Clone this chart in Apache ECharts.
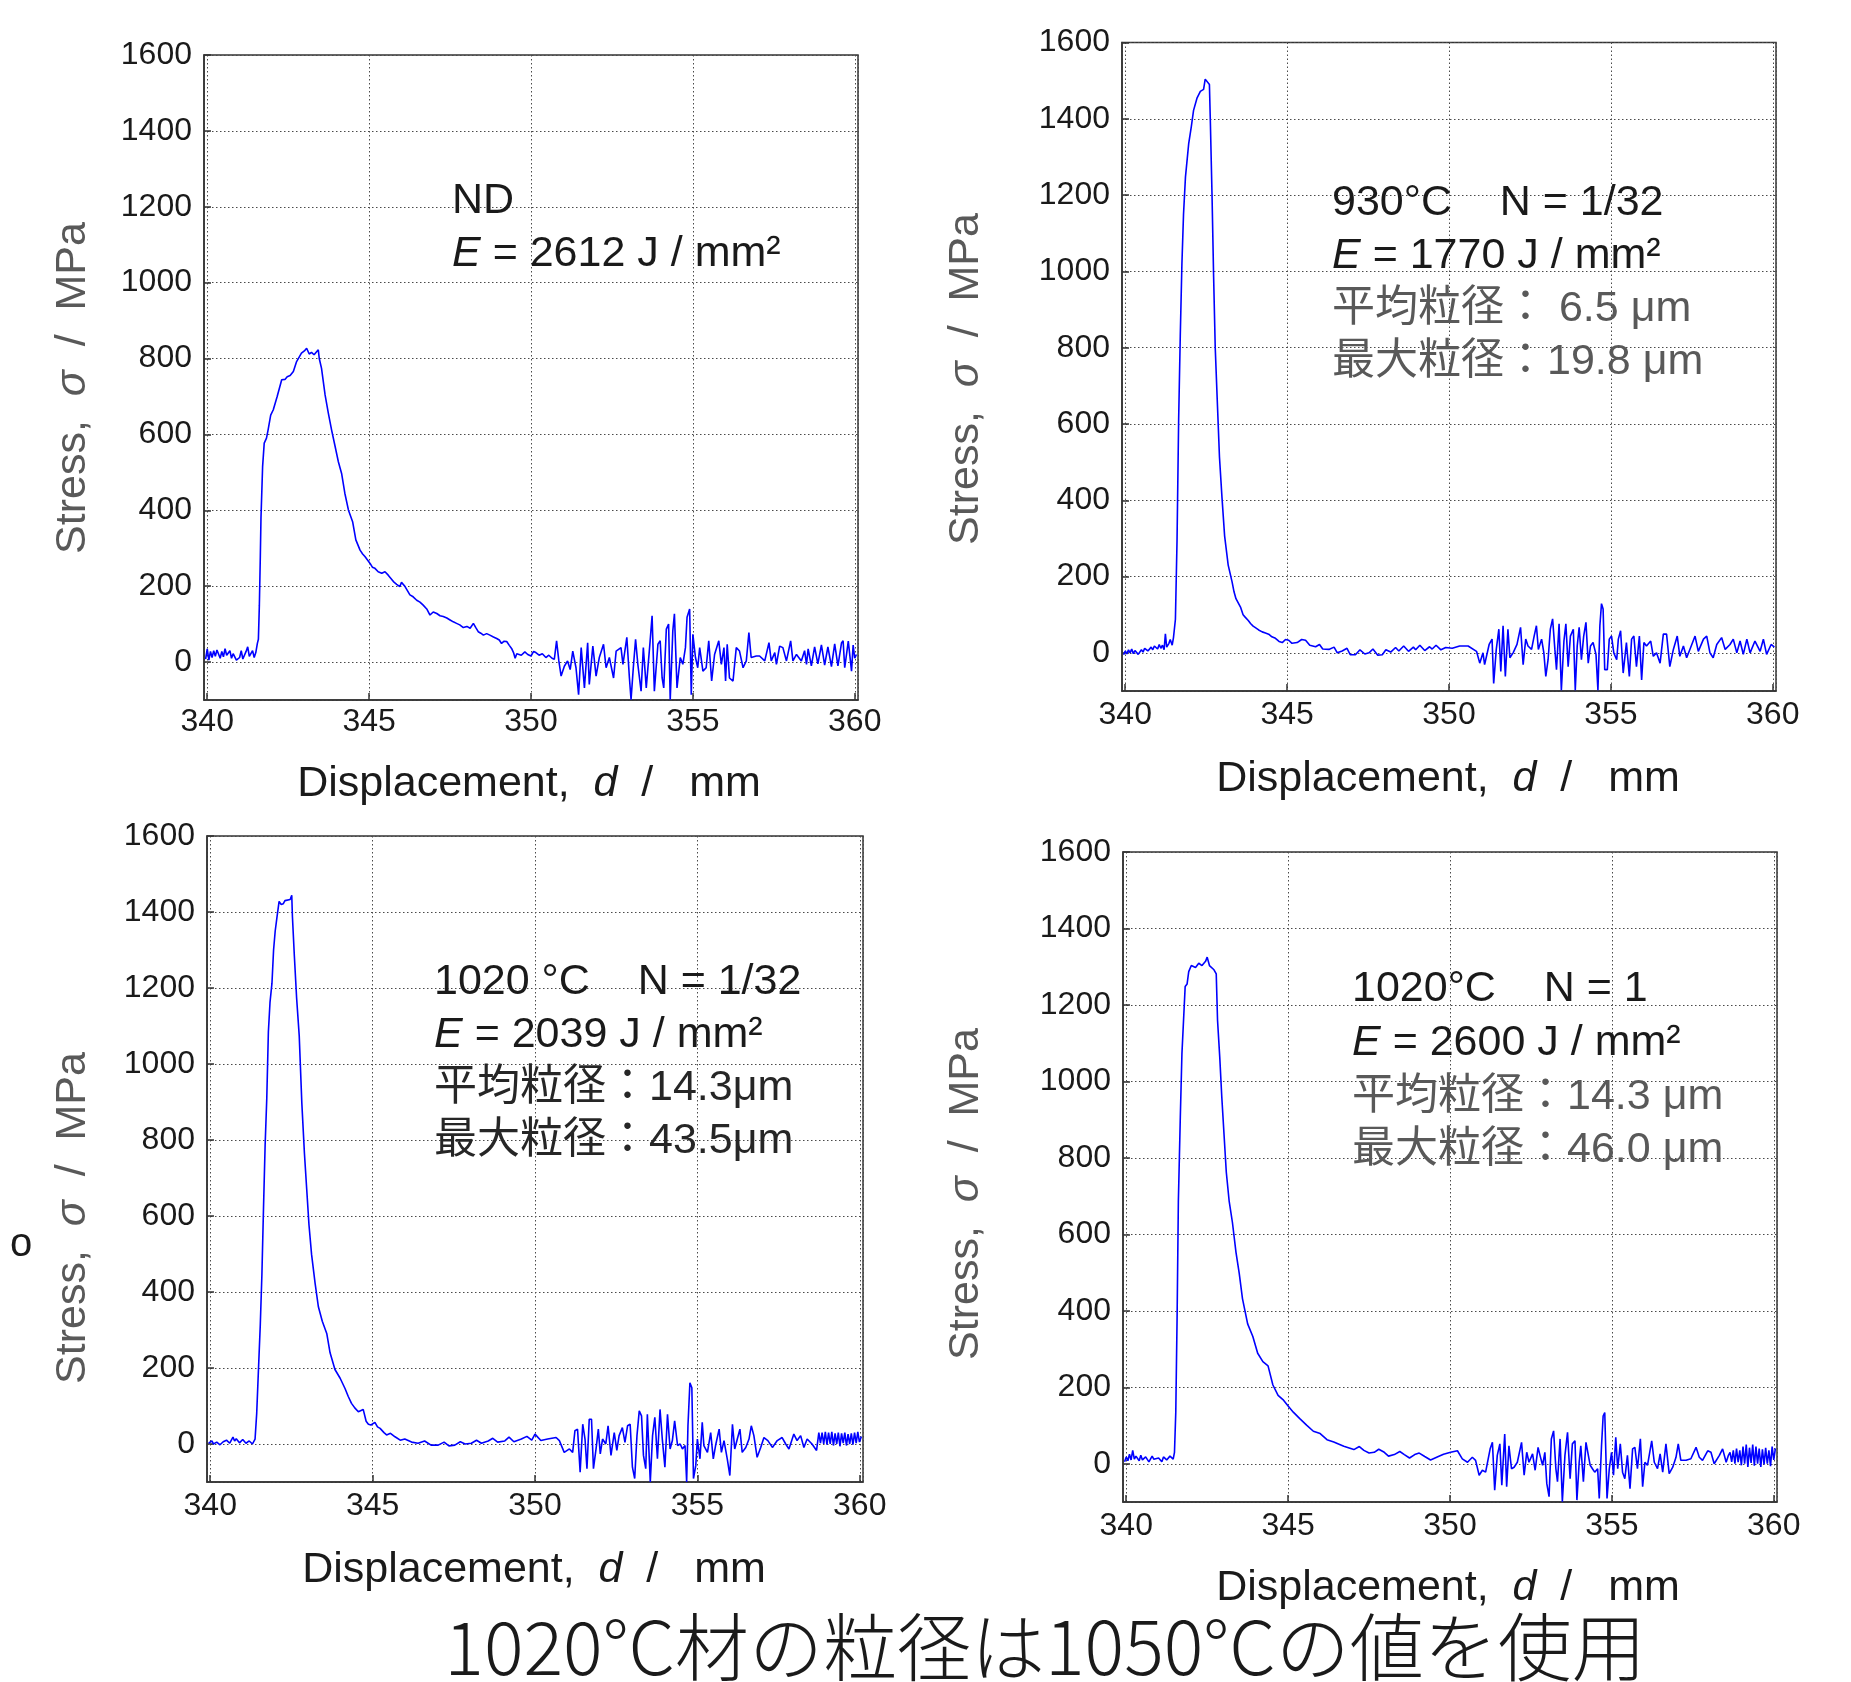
<!DOCTYPE html>
<html><head><meta charset="utf-8">
<script src="https://cdn.jsdelivr.net/npm/echarts@6/dist/echarts.min.js"></script>
<style>html,body{margin:0;padding:0;background:#fff}#c{width:1851px;height:1682px}</style>
</head><body><div id="c"></div>
<script>
// ---------- data: [displacement (mm), stress (MPa)] ----------
const ndData = [
[339.95,8],[340.0,35],[340.05,5],[340.1,28],[340.15,12],[340.2,30],[340.25,15],[340.3,32],[340.4,10],[340.45,28],[340.5,14],[340.55,35],[340.6,18],[340.7,30],[340.75,10],[340.8,22],[340.9,5],[341.0,12],[341.05,30],[341.1,8],[341.2,28],[341.25,40],[341.3,15],[341.4,30],[341.45,12],[341.5,25],[341.55,50],
[341.58,60],[341.61,150],[341.64,280],[341.66,380],[341.71,515],[341.76,577],[341.83,590],[341.88,612],[341.96,651],[342.04,665],[342.16,700],[342.30,744],[342.40,745],[342.47,752],[342.56,755],[342.66,766],[342.76,792],[342.91,814],[343.0,820],[343.07,827],[343.15,812],[343.22,816],[343.30,810],[343.43,823],[343.46,800],[343.53,774],[343.64,704],[343.74,656],[343.84,612],[343.94,572],[344.05,528],[344.15,497],[344.25,445],[344.36,401],[344.49,370],[344.59,322],[344.72,295],[344.80,285],[344.87,278],[345.03,260],[345.10,250],[345.18,247],[345.28,238],[345.39,234],[345.49,238],[345.59,229],[345.75,212],[345.85,205],[345.95,199],[346.0,210],[346.11,199],[346.26,177],[346.36,172],[346.47,163],[346.57,158],[346.67,150],[346.78,140],[346.88,124],[346.98,132],[347.09,128],[347.19,122],[347.29,120],[347.40,116],[347.50,111],[347.60,106],[347.70,102],[347.80,98],[347.91,91],[348.02,94],[348.12,89],[348.22,102],[348.30,90],[348.37,80],[348.45,76],[348.53,71],[348.63,75],[348.73,71],[348.84,66],[348.94,62],[349.02,58],[349.09,49],[349.17,55],[349.25,54],[349.33,44],[349.40,36],[349.46,25],[349.51,10],[349.56,22],[349.61,23],[349.70,18],[349.81,27],[349.90,20],
[350.0,16],[350.08,28],[350.15,25],[350.25,18],[350.35,22],[350.46,12],[350.55,18],[350.65,10],[350.72,7],[350.79,56],[350.86,3],[350.93,-37],[351.03,-11],[351.13,3],[351.21,-20],[351.29,29],[351.39,-15],[351.47,-86],[351.55,38],[351.65,-68],[351.75,51],[351.80,-59],[351.91,42],[352.01,-37],[352.11,12],[352.24,47],[352.32,-15],[352.42,12],[352.55,-42],[352.63,29],[352.78,38],[352.84,-6],[352.96,65],[353.04,-42],[353.09,-99],[353.16,-15],[353.23,60],[353.30,-6],[353.40,-77],[353.47,38],[353.56,-68],[353.68,56],[353.74,122],[353.81,-77],[353.92,47],[353.99,56],[354.05,-42],[354.10,-68],[354.18,87],[354.25,100],[354.30,-99],[354.38,82],[354.43,127],[354.51,-68],[354.61,12],[354.69,-6],[354.77,38],[354.82,118],[354.90,140],[354.95,-86],[355.00,73],[355.08,12],[355.15,-15],[355.21,38],[355.31,-24],[355.41,-15],[355.49,56],[355.58,-50],[355.67,20],[355.80,56],[355.88,-6],[355.96,38],[356.01,-50],[356.06,47],[356.13,-42],[356.24,-50],[356.34,38],[356.44,29],[356.55,-15],[356.65,3],[356.73,78],[356.80,12],[356.96,16],[357.06,16],[357.22,3],[357.35,51],[357.42,3],[357.53,25],[357.58,-6],[357.68,42],[357.78,38],[357.89,3],[358.02,56],[358.09,3],[358.20,20],[358.35,3],[358.45,30],[358.51,-6],[358.56,35],[358.61,38],[358.66,-10],[358.71,-15],[358.76,40],[358.81,42],[358.86,-5],[358.92,-6],[358.97,45],[359.02,47],[359.07,-8],[359.12,-11],[359.17,40],[359.23,38],[359.28,-12],[359.33,-15],[359.38,48],[359.43,51],[359.48,-10],[359.54,-11],[359.59,50],[359.64,56],[359.69,-15],[359.74,-15],[359.80,55],[359.85,60],[359.90,-24],[359.95,45],[360.0,10],[360.05,20]
];
const t930Data = [
[339.95,-5],[340.0,5],[340.05,-3],[340.1,8],[340.15,0],[340.2,10],[340.25,-2],[340.3,6],[340.4,-4],[340.5,8],[340.55,2],[340.6,12],[340.7,5],[340.8,15],[340.85,8],[340.9,18],[341.0,10],[341.05,22],[341.1,12],[341.15,20],[341.2,8],[341.24,50],[341.28,15],[341.35,25],[341.39,35],[341.45,20],[341.49,40],
[341.55,88],[341.60,295],[341.65,613],[341.70,832],[341.75,1018],[341.80,1149],[341.86,1247],[341.96,1335],[342.04,1379],[342.11,1422],[342.22,1455],[342.32,1472],[342.42,1477],[342.47,1504],[342.53,1499],[342.60,1490],[342.63,1389],[342.68,1203],[342.73,985],[342.78,799],[342.84,667],[342.91,514],[342.99,405],[343.07,306],[343.18,230],[343.30,186],[343.36,160],[343.42,142],[343.56,120],[343.64,100],[343.71,93],[343.80,85],[343.87,77],[343.95,70],[344.02,66],[344.12,60],[344.23,55],[344.33,52],[344.43,49],[344.53,42],[344.64,38],[344.75,30],[344.85,27],[344.95,35],[345.05,33],[345.15,25],[345.31,27],[345.45,35],[345.57,33],[345.70,20],[345.88,16],[346.0,22],[346.1,10],[346.29,9],[346.45,15],[346.55,0],[346.70,5],[346.85,12],[346.95,-5],[347.11,-5],[347.25,8],[347.40,-3],[347.53,0],[347.65,10],[347.80,-6],[347.94,-5],[348.05,8],[348.2,2],[348.35,14],[348.45,5],[348.6,18],[348.75,4],[348.9,15],[348.97,8],[349.1,20],[349.25,6],[349.4,16],[349.48,10],[349.6,20],[349.75,8],[349.9,14],
[350.1,12],[350.33,18],[350.59,18],[350.85,4],[350.95,-27],[351.05,0],[351.10,-31],[351.24,22],[351.33,36],[351.38,-80],[351.46,9],[351.54,62],[351.60,-49],[351.67,71],[351.74,-62],[351.82,62],[351.88,-13],[351.98,0],[352.10,22],[352.21,67],[352.29,-31],[352.37,36],[352.44,18],[352.55,9],[352.63,44],[352.70,71],[352.76,9],[352.86,36],[352.93,0],[352.99,-62],[353.06,-18],[353.13,62],[353.20,89],[353.27,9],[353.32,-44],[353.40,76],[353.47,-98],[353.55,31],[353.61,76],[353.68,-36],[353.75,44],[353.84,62],[353.90,-98],[353.96,18],[354.02,67],[354.09,-18],[354.16,44],[354.23,80],[354.30,-27],[354.37,18],[354.45,27],[354.54,-4],[354.60,-98],[354.66,71],[354.71,129],[354.76,115],[354.81,-44],[354.89,-44],[354.95,36],[355.02,44],[355.09,0],[355.18,-18],[355.23,36],[355.30,58],[355.38,-53],[355.48,27],[355.57,-62],[355.64,36],[355.71,44],[355.79,-36],[355.88,44],[355.95,-71],[356.02,27],[356.10,18],[356.23,31],[356.31,-9],[356.41,0],[356.52,-27],[356.62,49],[356.72,49],[356.82,-36],[356.93,9],[357.05,44],[357.13,-9],[357.24,18],[357.34,-13],[357.44,9],[357.60,44],[357.70,4],[357.86,36],[357.96,44],[358.06,0],[358.16,-13],[358.27,22],[358.42,40],[358.53,9],[358.68,22],[358.78,36],[358.89,0],[358.99,31],[359.09,-4],[359.20,36],[359.30,0],[359.45,31],[359.61,4],[359.71,36],[359.81,-4],[359.95,22],[360.05,15]
];
const t1020aData = [
[339.95,2],[340.05,8],[340.1,0],[340.2,5],[340.3,-2],[340.4,6],[340.5,10],[340.6,2],[340.7,18],[340.75,8],[340.8,14],[340.9,3],[341.0,12],[341.1,2],[341.2,8],[341.3,0],[341.38,13],
[341.43,80],[341.49,207],[341.54,312],[341.59,444],[341.64,621],[341.69,787],[341.74,908],[341.79,1085],[341.84,1162],[341.90,1212],[341.95,1300],[342.00,1350],[342.05,1383],[342.12,1428],[342.18,1420],[342.25,1422],[342.30,1430],[342.36,1428],[342.46,1433],[342.51,1444],[342.53,1389],[342.59,1284],[342.66,1173],[342.74,1074],[342.82,897],[342.90,765],[342.97,671],[343.04,577],[343.12,499],[343.23,422],[343.33,361],[343.45,323],[343.59,290],[343.69,240],[343.84,196],[344.00,173],[344.15,146],[344.25,125],[344.35,107],[344.45,95],[344.56,85],[344.71,91],[344.80,60],[344.87,52],[344.95,50],[345.07,57],[345.15,45],[345.23,41],[345.35,30],[345.43,24],[345.55,28],[345.69,19],[345.85,10],[345.99,13],[346.2,5],[346.40,2],[346.6,8],[346.8,-3],[347.02,-3],[347.2,5],[347.35,-5],[347.53,-3],[347.7,6],[347.85,0],[348.04,2],[348.2,10],[348.35,2],[348.56,8],[348.7,15],[348.85,5],[349.07,8],[349.2,18],[349.35,6],[349.58,13],[349.75,20],[349.9,10],
[350.0,26],[350.18,9],[350.39,13],[350.65,17],[350.75,9],[350.90,-22],[351.06,-13],[351.16,-22],[351.23,35],[351.31,39],[351.39,-74],[351.47,52],[351.54,13],[351.60,-65],[351.67,65],[351.74,65],[351.80,-65],[351.88,-13],[351.95,39],[352.01,-26],[352.08,13],[352.18,0],[352.25,48],[352.34,-30],[352.44,30],[352.52,-17],[352.59,22],[352.69,43],[352.77,4],[352.85,48],[352.93,52],[353.00,-61],[353.07,-91],[353.14,22],[353.21,87],[353.28,74],[353.34,-30],[353.41,-65],[353.46,78],[353.55,-100],[353.62,22],[353.69,70],[353.77,-39],[353.85,91],[353.92,13],[354.00,-61],[354.08,78],[354.16,-13],[354.23,9],[354.30,61],[354.39,-4],[354.47,0],[354.54,-13],[354.62,-4],[354.67,-100],[354.71,48],[354.77,161],[354.83,148],[354.88,-91],[354.95,-57],[355.00,13],[355.08,-39],[355.15,57],[355.20,-4],[355.31,-22],[355.41,30],[355.49,-39],[355.56,-4],[355.67,39],[355.74,-22],[355.82,9],[355.92,-39],[356.00,-83],[356.08,52],[356.15,-13],[356.23,13],[356.31,39],[356.38,-22],[356.49,-9],[356.59,13],[356.66,48],[356.74,22],[356.84,-35],[356.95,-9],[357.05,17],[357.17,9],[357.31,-9],[357.46,9],[357.61,17],[357.72,0],[357.82,-13],[357.97,26],[358.07,9],[358.18,22],[358.28,-9],[358.38,13],[358.53,0],[358.67,-17],[358.74,30],[358.79,2],[358.84,30],[358.89,0],[358.94,32],[358.99,-2],[359.04,30],[359.09,0],[359.14,32],[359.19,-4],[359.24,28],[359.29,0],[359.34,30],[359.39,-6],[359.44,28],[359.49,2],[359.54,30],[359.59,-4],[359.64,26],[359.69,0],[359.74,28],[359.79,-2],[359.84,30],[359.89,2],[359.94,32],[359.99,5],[360.05,20]
];
const t1020bData = [
[339.95,5],[340.0,18],[340.05,8],[340.1,25],[340.15,10],[340.2,35],[340.25,12],[340.3,20],[340.4,8],[340.45,22],[340.5,10],[340.6,18],[340.7,5],[340.8,20],[340.85,12],[340.9,8],[341.0,15],[341.1,5],[341.15,18],[341.25,10],[341.35,20],[341.45,12],[341.49,30],
[341.53,134],[341.57,377],[341.61,686],[341.67,906],[341.72,1072],[341.77,1160],[341.82,1248],[341.88,1255],[341.93,1287],[342.01,1303],[342.14,1298],[342.24,1309],[342.34,1303],[342.45,1314],[342.50,1325],[342.57,1303],[342.71,1292],[342.78,1281],[342.82,1160],[342.89,1061],[342.95,961],[343.02,862],[343.09,763],[343.18,686],[343.28,631],[343.39,553],[343.49,498],[343.59,432],[343.75,366],[343.91,333],[344.06,289],[344.22,267],[344.38,256],[344.53,206],[344.69,179],[344.84,168],[345.00,151],[345.16,135],[345.36,118],[345.57,101],[345.78,85],[345.99,79],[346.20,63],[346.41,57],[346.72,46],[347.03,37],[347.2,45],[347.34,35],[347.5,28],[347.66,30],[347.8,38],[347.97,30],[348.1,20],[348.28,24],[348.45,32],[348.59,24],[348.75,15],[348.91,24],[349.05,28],[349.22,19],[349.4,10],[349.64,19],[349.8,25],
[350.02,30],[350.23,34],[350.38,13],[350.54,4],[350.69,17],[350.79,9],[350.90,-30],[351.00,-17],[351.10,-22],[351.24,39],[351.31,56],[351.38,-69],[351.46,22],[351.54,52],[351.60,-56],[351.69,78],[351.75,-60],[351.82,47],[351.90,-13],[351.98,-9],[352.08,4],[352.21,56],[352.29,-30],[352.37,30],[352.44,4],[352.55,26],[352.63,-17],[352.72,43],[352.78,22],[352.86,-4],[352.93,30],[352.99,-52],[353.06,-86],[353.13,65],[353.20,86],[353.27,-13],[353.32,-47],[353.40,65],[353.47,-99],[353.55,22],[353.63,82],[353.71,-39],[353.78,52],[353.86,60],[353.92,-95],[353.99,4],[354.04,47],[354.12,-47],[354.20,56],[354.25,52],[354.33,-4],[354.40,-13],[354.47,-22],[354.56,-13],[354.61,-91],[354.68,47],[354.73,125],[354.78,134],[354.85,-91],[354.92,-13],[354.99,30],[355.05,-30],[355.12,69],[355.18,-13],[355.26,52],[355.33,-22],[355.40,-39],[355.48,22],[355.56,-65],[355.64,39],[355.71,43],[355.79,-13],[355.88,65],[355.95,-60],[356.02,4],[356.10,-4],[356.23,60],[356.31,4],[356.41,-13],[356.49,26],[356.57,-22],[356.67,52],[356.77,-26],[356.88,-9],[356.98,17],[357.05,52],[357.13,9],[357.29,9],[357.44,13],[357.60,43],[357.70,17],[357.80,9],[357.96,34],[358.06,30],[358.16,0],[358.32,22],[358.42,39],[358.53,4],[358.6,22],[358.65,30],[358.7,5],[358.75,35],[358.8,0],[358.85,40],[358.9,4],[358.95,35],[359.0,-4],[359.05,45],[359.1,0],[359.15,50],[359.2,-8],[359.25,42],[359.3,2],[359.35,50],[359.4,-5],[359.45,45],[359.5,0],[359.55,40],[359.6,-8],[359.65,38],[359.7,-2],[359.75,42],[359.8,0],[359.85,35],[359.9,-6],[359.95,45],[360.0,10],[360.05,40]
];

// axis ranges
const xRange = [339.9, 360.1];
const yRange = [-100, 1600];

// annotation texts
const ndNotes = ['ND', '{i|E} = 2612 J / mm²'];
const t930Notes = ['930°C    N = 1/32', '{i|E} = 1770 J / mm²', '平均粒径： 6.5 μm', '最大粒径：19.8 μm'];
const t1020aNotes = ['1020 °C    N = 1/32', '{i|E} = 2039 J / mm²', '平均粒径：14.3μm', '最大粒径：43.5μm'];
const t1020bNotes = ['1020°C    N = 1', '{i|E} = 2600 J / mm²', '平均粒径：14.3 μm', '最大粒径：46.0 μm'];
const xTitle = '{n|Displacement,  }{i|d}{n|  /   mm}';
const yTitle = '{n|Stress,  }{i|σ}{n|  /  MPa}';
const footTitle = '1020°C材の粒径は1050°Cの値を使用';

const FONT = "'Liberation Sans', Arial, 'Noto Sans CJK JP', sans-serif";
const JFONT = "'Noto Sans CJK JP', sans-serif";

const panels = [
  {data: ndData, grid: {left: 204, top: 55, width: 654, height: 645}, xm: 6,
   notes: ndNotes, nx: 452, ny: [201, 254], colors: ['#1a1a1a', '#1a1a1a'],
   yt: [73, 388], xt: [529, 784]},
  {data: t930Data, grid: {left: 1122, top: 42.5, width: 654, height: 648.5}, xm: 8,
   notes: t930Notes, nx: 1332, ny: [203, 256, 309, 362], colors: ['#1a1a1a', '#1a1a1a', '#595959', '#595959'],
   yt: [966, 379], xt: [1448, 779]},
  {data: t1020aData, grid: {left: 207, top: 836, width: 656, height: 646}, xm: 8,
   notes: t1020aNotes, nx: 434, ny: [982, 1035, 1088, 1141], colors: ['#1a1a1a', '#1a1a1a', '#262626', '#262626'],
   yt: [73, 1218], xt: [534, 1570]},
  {data: t1020bData, grid: {left: 1123, top: 852, width: 654, height: 650}, xm: 8,
   notes: t1020bNotes, nx: 1352, ny: [989, 1043, 1097, 1150], colors: ['#1a1a1a', '#1a1a1a', '#595959', '#595959'],
   yt: [966, 1194], xt: [1448, 1588]}
];

const grids = [], xAxes = [], yAxes = [], series = [], graphics = [];
const axisLineStyle = {color: '#333', width: 1.5};
const gridLine = {color: '#4a4a4a', width: 1, type: [1.5, 2.5]};
panels.forEach((p, i) => {
  grids.push(Object.assign({show: true, borderColor: '#333', borderWidth: 1.5, backgroundColor: 'transparent'}, p.grid));
  xAxes.push({
    type: 'value', gridIndex: i, min: xRange[0], max: xRange[1], splitNumber: 4,
    axisLine: {show: true, onZero: false, lineStyle: axisLineStyle},
    axisTick: {show: true, inside: true, length: 7, lineStyle: {color: '#333', width: 1.5}},
    axisLabel: {show: true, showMinLabel: false, showMaxLabel: false, margin: p.xm, fontSize: 32, color: '#1a1a1a', fontFamily: FONT,
      formatter: v => String(v)},
    splitLine: {show: true, lineStyle: gridLine}
  });
  yAxes.push({
    type: 'value', gridIndex: i, min: yRange[0], max: yRange[1], splitNumber: 8,
    axisLine: {show: true, onZero: false, lineStyle: axisLineStyle},
    axisTick: {show: true, inside: true, length: 7, lineStyle: {color: '#333', width: 1.5}},
    axisLabel: {show: true, showMinLabel: false, margin: 12, fontSize: 32, color: '#1a1a1a', fontFamily: FONT,
      formatter: v => String(v)},
    splitLine: {show: true, lineStyle: gridLine}
  });
  series.push({
    type: 'line', xAxisIndex: i, yAxisIndex: i, data: p.data, showSymbol: false, symbol: 'none',
    lineStyle: {color: '#0000ff', width: 1.6}, itemStyle: {color: '#0000ff'}, clip: true, animation: false
  });
  p.notes.forEach((t, k) => {
    graphics.push({
      type: 'text', x: p.nx, y: p.ny[k], z: 10,
      style: {
        text: t, fill: p.colors[k], fontSize: 43, fontFamily: FONT, align: 'left', verticalAlign: 'middle',
        rich: {i: {fontStyle: 'italic', fontSize: 43, fontFamily: FONT, fill: p.colors[k]}}
      }
    });
  });
  graphics.push({
    type: 'text', x: p.yt[0], y: p.yt[1], rotation: Math.PI / 2, z: 10,
    style: {
      text: yTitle, align: 'center', verticalAlign: 'middle',
      rich: {
        n: {fontSize: 43, fontFamily: FONT, fill: '#595959'},
        i: {fontSize: 43, fontFamily: FONT, fontStyle: 'italic', fill: '#595959'}
      }
    }
  });
  graphics.push({
    type: 'text', x: p.xt[0], y: p.xt[1], z: 10,
    style: {
      text: xTitle, align: 'center', verticalAlign: 'middle',
      rich: {
        n: {fontSize: 43, fontFamily: FONT, fill: '#1a1a1a'},
        i: {fontSize: 43, fontFamily: FONT, fontStyle: 'italic', fill: '#1a1a1a'}
      }
    }
  });
});
graphics.push({
  type: 'text', x: 1045, y: 1647, z: 10,
  style: {text: footTitle, fill: '#1a1a1a', fontSize: 74, fontWeight: 300, fontFamily: JFONT, align: 'center', verticalAlign: 'middle'}
});
graphics.push({
  type: 'text', x: 21, y: 1245, z: 10,
  style: {text: 'o', fill: '#1a1a1a', fontSize: 40, fontFamily: FONT, align: 'center', verticalAlign: 'middle'}
});

const chart = echarts.init(document.getElementById('c'), null, {renderer: 'canvas'});
chart.setOption({
  backgroundColor: '#ffffff',
  animation: false,
  grid: grids,
  xAxis: xAxes,
  yAxis: yAxes,
  series: series,
  graphic: graphics
});
</script>
</body></html>
